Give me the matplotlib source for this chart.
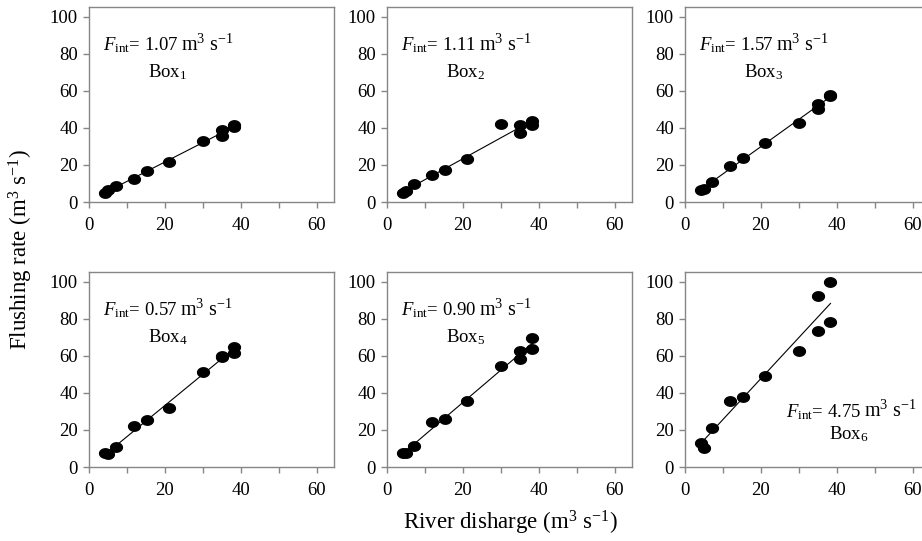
import numpy as np
import matplotlib
matplotlib.use('Agg')
import matplotlib.pyplot as plt
from matplotlib.path import Path
from matplotlib.ticker import MultipleLocator
from matplotlib.offsetbox import TextArea, HPacker, AnnotationBbox

plt.rcParams['font.family'] = ['Liberation Serif', 'DejaVu Serif']
plt.rcParams['mathtext.fontset'] = 'custom'
plt.rcParams['mathtext.rm'] = 'Liberation Serif'
plt.rcParams['mathtext.it'] = 'Liberation Serif:italic'

# river discharge (m3 s-1), same for every box
discharge = [4.3, 5.1, 7.1, 11.8, 15.3, 21.1, 30.0, 35.0, 35.0, 38.3, 38.3]

box1 = [5.0, 6.5, 8.7, 12.5, 16.6, 21.7, 33.0, 35.6, 38.9, 40.5, 41.5]
box2 = [4.9, 6.0, 9.5, 14.4, 17.5, 23.2, 42.0, 37.5, 41.4, 41.4, 43.8]
box3 = [6.3, 7.2, 10.6, 19.5, 24.0, 31.9, 42.7, 50.5, 53.2, 57.3, 57.7]
box4 = [7.7, 6.8, 10.8, 22.2, 25.6, 31.9, 51.2, 59.3, 59.8, 61.8, 64.9]
box5 = [7.6, 7.6, 11.2, 24.3, 25.8, 35.7, 54.6, 58.6, 62.7, 63.6, 69.7]
box6 = [13.0, 10.4, 21.0, 35.8, 37.6, 49.0, 62.7, 73.5, 92.3, 78.3, 100.0]

boxes = [box1, box2, box3, box4, box5, box6]
f_int = ['1.07', '1.11', '1.57', '0.57', '0.90', '4.75']

# dots in the original are slightly wider than tall
t = np.linspace(0, 2*np.pi, 60)
ellipse = Path(np.column_stack([1.25*np.cos(t), np.sin(t)]), closed=True)

fig = plt.figure(figsize=(9.22, 5.41), dpi=100)
W, H = 922.0, 541.0
lefts = [89, 387, 685]
bottoms = [202, 467]
aw, ah = 245, 195

gray = '#868686'
for i in range(6):
    r, c = divmod(i, 3)
    ax = fig.add_axes([lefts[c]/W, 1 - bottoms[r]/H, aw/W, ah/H])
    x = np.array(discharge)
    y = np.array(boxes[i])
    ax.plot(x, y, linestyle='none', marker=ellipse, ms=8.5, color='black', zorder=3)
    k, b = np.polyfit(x, y, 1)
    xs = np.array([x.min(), x.max()])
    ax.plot(xs, k*xs + b, color='black', lw=0.8, zorder=2)
    ax.set_xlim(0, 64.5)
    ax.set_ylim(0, 105.4)
    ax.xaxis.set_major_locator(MultipleLocator(20))
    ax.xaxis.set_minor_locator(MultipleLocator(10))
    ax.yaxis.set_major_locator(MultipleLocator(20))
    for s in ax.spines.values():
        s.set_color(gray)
        s.set_linewidth(1.0)
    ax.tick_params(which='both', direction='out', length=4, width=1.0, color=gray,
                   labelsize=13.5, pad=4)
    ax.tick_params(axis='x', pad=7)

    part1 = TextArea(r'$F_{\mathrm{int}}$= ' + f_int[i],
                     textprops=dict(fontsize=13.5))
    part2 = TextArea(r'm$^3$ s$^{-1}$', textprops=dict(fontsize=14.5))
    pack = HPacker(children=[part1, part2], align='baseline', pad=0, sep=2)
    if i < 5:
        pos, bpos = (3.7, 85), (20.8, 70)
    else:
        pos, bpos = (26.6, 30), (43, 18)
    ab = AnnotationBbox(pack, pos, xycoords='data', box_alignment=(0, 0.5),
                        frameon=False, pad=0)
    ax.add_artist(ab)
    ax.text(bpos[0], bpos[1], r'Box$_%d$' % (i+1), fontsize=13.5,
            ha='center', va='center')

fig.text(21/W, 1 - 250/H, r'Flushing rate (m$^3$ s$^{-1}$)', rotation=90,
         fontsize=16.5, ha='center', va='center')
fig.text(510/W, 1 - 523/H, r'River disharge (m$^3$ s$^{-1}$)',
         fontsize=16.5, ha='center', va='center')

plt.savefig('out.png', dpi=100)
